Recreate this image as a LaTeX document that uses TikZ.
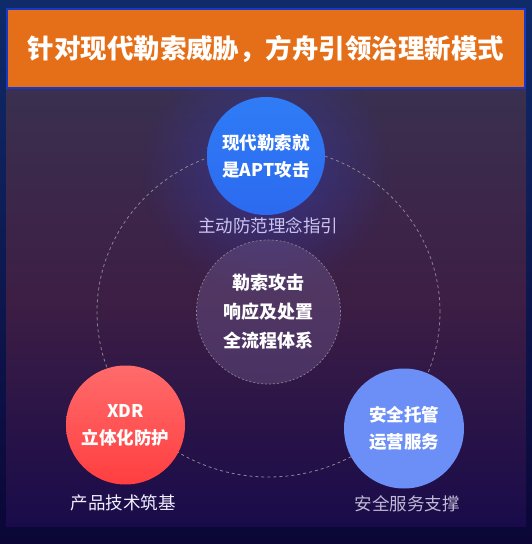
\documentclass[tikz,border=0pt]{standalone}
\usepackage{fontspec}
\setmainfont{Noto Sans CJK SC}
\usetikzlibrary{fadings}
\tikzfading[name=glowfade, inner color=transparent!0, outer color=transparent!100]
\definecolor{bgA}{HTML}{0F2B6A}
\definecolor{bgB}{HTML}{0B0636}
\definecolor{panelTop}{HTML}{3A3050}
\definecolor{panelMid}{HTML}{3D1E44}
\definecolor{panelBot}{HTML}{190B4A}
\definecolor{glowblue}{HTML}{3340C8}
\definecolor{titleOrange}{HTML}{E56F18}
\definecolor{titleBorder}{HTML}{1838C8}
\definecolor{topBlue}{HTML}{2F7CF6}
\definecolor{topBlueB}{HTML}{2C6AF0}
\definecolor{redA}{HTML}{FF6B6B}
\definecolor{redB}{HTML}{FF3E40}
\definecolor{rightBlue}{HTML}{6B8FF7}
\definecolor{centerFill}{HTML}{6A5488}
\definecolor{dashGray}{HTML}{8A8490}
\definecolor{lblTop}{HTML}{CBC5F0}
\definecolor{lblLeft}{HTML}{F2F0FF}
\definecolor{lblRight}{HTML}{BFBAD6}
\begin{document}
\begin{tikzpicture}[x=1pt,y=-1pt,
  bubble/.style={circle, inner sep=0pt, align=center, text=white,
    font=\bfseries\fontsize{17.5pt}{27pt}\selectfont},
  lbl/.style={inner sep=0pt, font=\fontsize{17.5pt}{20pt}\selectfont},
  ring/.style={draw=dashGray, dash pattern=on 3pt off 3pt, line width=0.8pt}]
\useasboundingbox (0,0) rectangle (532,544);
% outer background
\shade[top color=bgA, bottom color=bgB] (0,0) rectangle (532,544);
% panel
\shade[top color=panelTop, bottom color=panelMid] (6,88) rectangle (526,300.5);
\shade[top color=panelMid, bottom color=panelBot] (6,300) rectangle (526,526);
% glow around top circle
\fill[glowblue, path fading=glowfade, fill opacity=0.5] (266,170) circle (125pt);
% title bar
\fill[titleOrange] (7,9) rectangle (525,88);
\draw[titleBorder, line width=1.6pt] (7,9) rectangle (525,88);
\node[text=white, font=\bfseries\fontsize{26.5pt}{30pt}\selectfont, inner sep=0pt] (title) at (266,48.5) {针对现代勒索威胁，方舟引领治理新模式};
% big dashed ring
\draw[ring] (268.5,312) ellipse [x radius=171.5pt, y radius=165pt];
% center circle
\node[bubble, fill=centerFill, fill opacity=0.45, text opacity=1, draw=dashGray, dash pattern=on 2pt off 2pt, line width=0.7pt,
  minimum size=144pt, font=\bfseries\fontsize{18pt}{29pt}\selectfont] (center) at (268.5,312) {勒索攻击\\响应及处置\\全流程体系};
% top circle
\node[bubble, top color=topBlue, bottom color=topBlueB, minimum size=118pt] (top) at (266,156) {现代勒索就\\是APT攻击};
\node[lbl, text=lblTop] (toplbl) at (268,226) {主动防范理念指引};
% left circle
\node[bubble, top color=redA, bottom color=redB, minimum size=119pt] (left) at (125.5,425) {XDR\\立体化防护};
\node[lbl, text=lblLeft] (leftlbl) at (123,503) {产品技术筑基};
% right circle
\node[bubble, fill=rightBlue, minimum size=120pt] (right) at (404,428.5) {安全托管\\运营服务};
\node[lbl, text=lblRight] (rightlbl) at (407,504) {安全服务支撑};
\end{tikzpicture}
\end{document}
